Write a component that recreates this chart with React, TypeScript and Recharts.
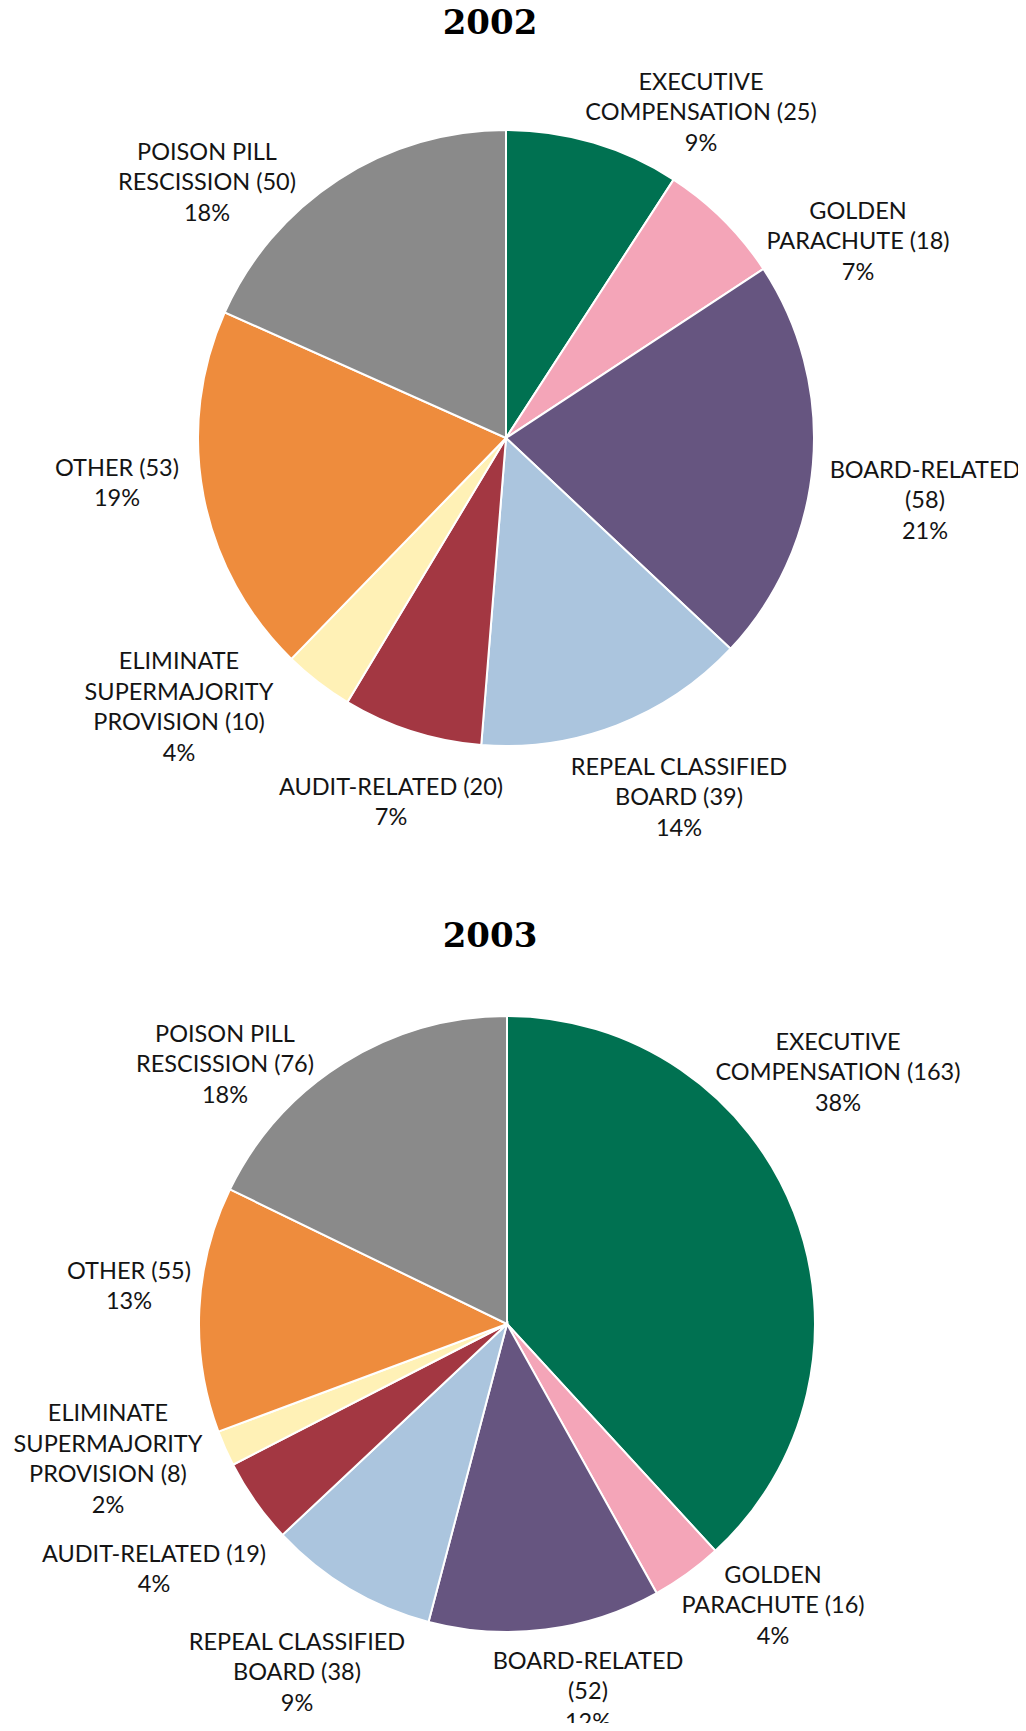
import { PieChart, Pie, Cell } from 'recharts';

const categories = [
  ['EXECUTIVE', 'COMPENSATION'],
  ['GOLDEN', 'PARACHUTE'],
  ['BOARD-RELATED', ''],
  ['REPEAL CLASSIFIED', 'BOARD'],
  ['AUDIT-RELATED'],
  ['ELIMINATE', 'SUPERMAJORITY', 'PROVISION'],
  ['OTHER'],
  ['POISON PILL', 'RESCISSION'],
];

const values2002 = [25, 18, 58, 39, 20, 10, 53, 50];
const values2003 = [163, 16, 52, 38, 19, 8, 55, 76];

const colors = ['#007151', '#f4a5b8', '#665580', '#abc5de', '#a33742', '#fff1b6', '#ee8c3d', '#8a8a8a'];

// label centre offsets from the pie centre, px
const labelOffsets2002 = [
  [195, -327], [352, -198], [419, 61], [173, 358],
  [-115, 363], [-327, 268], [-389, 44], [-299, -257],
];
const labelOffsets2003 = [
  [331, -253], [266, 280], [81, 366], [-210, 347],
  [-353, 244], [-399, 134], [-378, -39], [-282, -261],
];

const LINE = 30.5;

function buildData(values: number[]) {
  const total = values.reduce((a, b) => a + b, 0);
  return values.map((v, i) => {
    const lines = [...categories[i]];
    const last = lines.length - 1;
    lines[last] = lines[last] ? `${lines[last]} (${v})` : `(${v})`;
    lines.push(`${Math.round((v / total) * 100)}%`);
    return { name: categories[i].join(' '), value: v, lines };
  });
}

const data2002 = buildData(values2002);
const data2003 = buildData(values2003);

function makeLabel(offsets: number[][]) {
  return (props: any) => {
    const { cx, cy, index, payload } = props;
    const lines: string[] = payload.lines;
    const x = cx + offsets[index][0];
    const y0 = cy + offsets[index][1] - ((lines.length - 1) * LINE) / 2;
    return (
      <text
        key={`l-${index}`}
        x={x}
        y={y0}
        textAnchor="middle"
        dominantBaseline="central"
        fontFamily="Lato, 'Open Sans', sans-serif"
        fontSize={23.5}
        fill="#141414"
      >
        {lines.map((t, i) => (
          <tspan key={i} x={x} y={y0 + i * LINE}>
            {t}
          </tspan>
        ))}
      </text>
    );
  };
}

export default function App() {
  return (
    <div style={{ position: 'relative', margin: -8, width: 1026, height: 1731, background: '#fff' }}>
      <PieChart width={1026} height={1731}>
        <Pie
          data={data2002}
          dataKey="value"
          cx={501}
          cy={433}
          outerRadius={308}
          startAngle={90}
          endAngle={-270}
          stroke="#fff"
          strokeWidth={2}
          label={makeLabel(labelOffsets2002)}
          labelLine={false}
          isAnimationActive={false}
        >
          {data2002.map((d, i) => (
            <Cell key={d.name} fill={colors[i]} />
          ))}
        </Pie>
        <Pie
          data={data2003}
          dataKey="value"
          cx={502}
          cy={1319}
          outerRadius={308}
          startAngle={90}
          endAngle={-270}
          stroke="#fff"
          strokeWidth={2}
          label={makeLabel(labelOffsets2003)}
          labelLine={false}
          isAnimationActive={false}
        >
          {data2003.map((d, i) => (
            <Cell key={d.name} fill={colors[i]} />
          ))}
        </Pie>
      </PieChart>
      <svg
        width={1026}
        height={1731}
        style={{ position: 'absolute', left: 0, top: 0, pointerEvents: 'none' }}
      >
        <text x={490} y={34} textAnchor="middle" fontFamily="'DejaVu Serif', serif" fontWeight="bold" fontSize={34} fill="#000">
          2002
        </text>
        <text x={490} y={947} textAnchor="middle" fontFamily="'DejaVu Serif', serif" fontWeight="bold" fontSize={34} fill="#000">
          2003
        </text>
      </svg>
    </div>
  );
}
